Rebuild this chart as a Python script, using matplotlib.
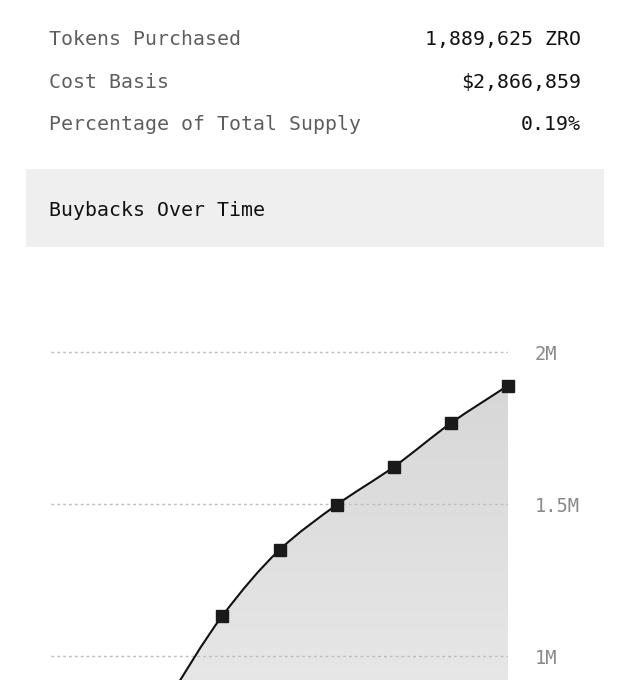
import numpy as np
import matplotlib
matplotlib.use("Agg")
import matplotlib.pyplot as plt
from matplotlib.path import Path
from matplotlib.patches import PathPatch

# Summary rows
stat_labels = ["Tokens Purchased", "Cost Basis", "Percentage of Total Supply"]
stat_values = ["1,889,625 ZRO", "$2,866,859", "0.19%"]
chart_title = "Buybacks Over Time"

# Cumulative buybacks (ZRO), one point per period
periods = [0, 1, 2, 3, 4, 5, 6, 7, 8]
tokens = [200000, 520000, 840000, 1132000, 1349000, 1497000, 1622000, 1766000, 1889625]
tick_values = [1000000, 1500000, 2000000]
tick_labels = ["1M", "1.5M", "2M"]

W, H = 630, 680
fig = plt.figure(figsize=(W / 100, H / 100), dpi=100)
fig.patch.set_facecolor("white")
mono = "DejaVu Sans Mono"


def fx(px):
    return px / W


def fy(py):
    return 1 - py / H


# top stats
baselines = [45, 88, 130]
for lab, val, b in zip(stat_labels, stat_values, baselines):
    fig.text(fx(49), fy(b), lab, family=mono, fontsize=14.3, color="#5e5e5e",
             va="baseline", ha="left")
    fig.text(fx(581), fy(b), val, family=mono, fontsize=14.3, color="#111111",
             va="baseline", ha="right")

# title box
box = plt.Rectangle((fx(26), fy(247)), fx(604) - fx(26), fy(169) - fy(247),
                    transform=fig.transFigure, facecolor="#efefef", edgecolor="none")
fig.add_artist(box)
fig.text(fx(49), fy(216), chart_title, family=mono, fontsize=14.3, color="#111111",
         va="baseline", ha="left")

# chart axes: 2M at y=352px, 304px per 1M, extends below the figure edge
ymax = 2100000
px_per_unit = 304 / 1e6
y_zero = 352 + 2e6 * px_per_unit
y_top = 352 - (ymax - 2e6) * px_per_unit
ax = fig.add_axes([fx(51), fy(y_zero), fx(508) - fx(51), (y_zero - y_top) / H])
ax.set_facecolor("none")
for s in ax.spines.values():
    s.set_visible(False)
ax.set_xticks([])
ax.yaxis.tick_right()
ax.set_yticks(tick_values)
ax.set_yticklabels(tick_labels, family=mono, fontsize=13.5, color="#8a8a8a")
ax.tick_params(axis="y", length=0, pad=19)
for v in tick_values:
    ax.axhline(v, color="#bdbdbd", lw=1, ls=(0, (2, 2.2)), zorder=2.5)

# smooth monotone curve through the points (drawing only)
x = np.array(periods, dtype=float)
y = np.array(tokens, dtype=float)
dx = np.diff(x)
sl = np.diff(y) / dx
m = np.zeros_like(y)
m[0], m[-1] = sl[0], sl[-1]
for i in range(1, len(y) - 1):
    if sl[i - 1] * sl[i] <= 0:
        m[i] = 0
    else:
        m[i] = 2 / (1 / sl[i - 1] + 1 / sl[i])
verts = [(x[0], y[0])]
codes = [Path.MOVETO]
for i in range(len(x) - 1):
    h = dx[i] / 3
    verts += [(x[i] + h, y[i] + m[i] * h), (x[i + 1] - h, y[i + 1] - m[i + 1] * h), (x[i + 1], y[i + 1])]
    codes += [Path.CURVE4] * 3
line_path = Path(verts, codes)
fill_path = Path(verts + [(x[-1], 0), (x[0], 0), (x[0], y[0])],
                 codes + [Path.LINETO, Path.LINETO, Path.CLOSEPOLY])

# gradient area fill, lighter towards the bottom of the view
grad = np.linspace(0, 1, 256).reshape(-1, 1)
cmap = matplotlib.colors.LinearSegmentedColormap.from_list("g", ["#e7e7e7", "#d7d7d7"])
img = ax.imshow(grad, aspect="auto", cmap=cmap, origin="lower",
                extent=[x[0], x[-1], 0.9e6, y.max()], zorder=2)
clip = PathPatch(fill_path, transform=ax.transData, facecolor="none", edgecolor="none")
ax.add_patch(clip)
img.set_clip_path(clip)
ax.set_xlim(periods[0], periods[-1])
ax.set_ylim(0, ymax)

ax.add_patch(PathPatch(line_path, facecolor="none", edgecolor="#111111", lw=1.5, zorder=3))
ax.plot(x, y, ls="none", marker="s", ms=9, color="#1a1a1a", zorder=4, clip_on=False)

fig.savefig("out.png", dpi=100, facecolor="white")
